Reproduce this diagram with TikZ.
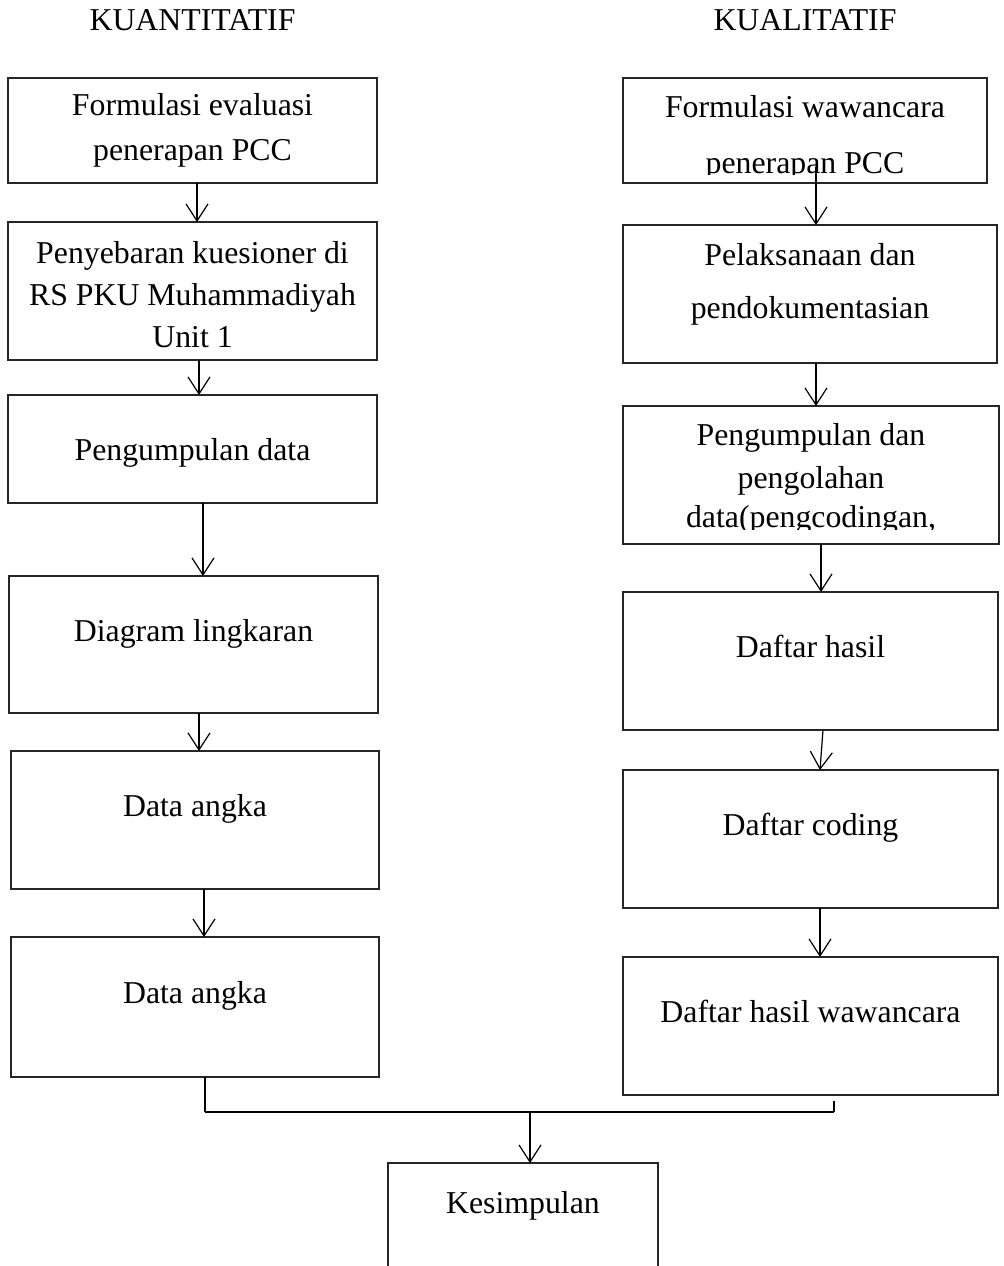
\documentclass[tikz,border=0pt]{standalone}
\usepackage{fontspec}
\setmainfont{Liberation Serif}
\usetikzlibrary{arrows.meta}
\newcommand\mkbox[6][]{\node[boxst,#1,minimum width={(#5-#3)*0.5pt},minimum height={(#6-#4)*0.5pt}] (#2) at ({(#3+#5)/2},{(#4+#6)/2}) {};}
\begin{document}
\begin{tikzpicture}[x=0.5pt,y=-0.5pt,
  boxst/.style={draw=black!85,line width=0.55pt,inner sep=0pt,outer sep=0pt},
  txt/.style={anchor=base,inner sep=0pt,font=\fontsize{15.9}{19}\selectfont},
  arr/.style={line width=0.6pt,-{Straight Barb[length=8.5pt,width=11pt,line width=0.6pt]}},
  link/.style={line width=0.7pt}]
\useasboundingbox (0,0) rectangle (1004,1266);
% headers
\node[txt] (hq) at (192.5,30) {KUANTITATIF};
\node[txt] (hk) at (805,30) {KUALITATIF};
% left column boxes
\mkbox{L1}{8}{78}{377}{183}
\mkbox{L2}{8}{222}{377}{360}
\mkbox{L3}{8}{395}{377}{503}
\mkbox{L4}{9}{576}{378}{713}
\mkbox{L5}{11}{751}{379}{889}
\mkbox{L6}{11}{937}{379}{1077}
% right column boxes
\mkbox{R1}{623}{78}{987}{183}
\mkbox{R2}{623}{225}{997}{363}
\mkbox{R3}{623}{406}{999}{544}
\mkbox{R4}{623}{592}{998}{730}
\mkbox{R5}{623}{770}{998}{908}
\mkbox{R6}{623}{957}{998}{1095}
% conclusion box (open bottom)
\mkbox[draw=none]{K}{388}{1163}{658}{1266}
\draw[boxst] (K.south west) -- (K.north west) -- (K.north east) -- (K.south east);
% left texts
\node[txt] (tL1a) at (192.5,115) {Formulasi evaluasi};
\node[txt] (tL1b) at (192.5,160) {penerapan PCC};
\node[txt] (tL2a) at (192.5,263) {Penyebaran kuesioner di};
\node[txt] (tL2b) at (192.5,305) {RS PKU Muhammadiyah};
\node[txt] (tL2c) at (192.5,347) {Unit 1};
\node[txt] (tL3) at (192.5,460) {Pengumpulan data};
\node[txt] (tL4) at (193.5,641) {Diagram lingkaran};
\node[txt] (tL5) at (195,816) {Data angka};
\node[txt] (tL6) at (195,1003) {Data angka};
% right texts
\node[txt] (tR1a) at (805,117) {Formulasi wawancara};
\begin{scope}
\clip (600,120) rectangle (1004,174.5);
\node[txt] (tR1b) at (805,173) {penerapan PCC};
\end{scope}
\node[txt] (tR2a) at (810,265) {Pelaksanaan dan};
\node[txt] (tR2b) at (810,318) {pendokumentasian};
\node[txt] (tR3a) at (811,445) {Pengumpulan dan};
\node[txt] (tR3b) at (811,488) {pengolahan};
\begin{scope}
\clip (600,490) rectangle (1004,529);
\node[txt] (tR3c) at (811,527) {data(pengcodingan,};
\end{scope}
\node[txt] (tR4) at (810.5,657) {Daftar hasil};
\node[txt] (tR5) at (810.5,835) {Daftar coding};
\node[txt] (tR6) at (810.5,1022) {Daftar hasil wawancara};
\node[txt] (tK) at (523,1213) {Kesimpulan};
% left arrows
\draw[arr] (L1.south -| 197,0) -- (L2.north -| 197,0);
\draw[arr] (L2.south -| 199,0) -- (L3.north -| 199,0);
\draw[arr] (L3.south -| 203,0) -- (L4.north -| 203,0);
\draw[arr] (L4.south -| 199,0) -- (L5.north -| 199,0);
\draw[arr] (L5.south -| 204,0) -- (L6.north -| 204,0);
% right arrows
\coordinate (b1s) at (816,167);
\draw[arr] (b1s) -- (R2.north -| b1s);
\draw[arr] (R2.south -| 816,0) -- (R3.north -| 816,0);
\draw[arr] (R3.south -| 821,0) -- (R4.north -| 821,0);
\draw[arr] (R4.south -| 823,0) -- (R5.north -| 820,0);
\draw[arr] (R5.south -| 820,0) -- (R6.north -| 820,0);
% joining lines
\coordinate (jl) at (205,1112);
\coordinate (jr) at (834,1112);
\coordinate (rt) at (834,1101);
\coordinate (jm) at (530,1112);
\draw[link] (L6.south -| jl) -- (jl);
\draw[link] (rt) -- (jr);
\draw[line width=1.2pt] (jl) -- (jr);
\draw[arr] (jm) -- (K.north -| jm);
\end{tikzpicture}
\end{document}
